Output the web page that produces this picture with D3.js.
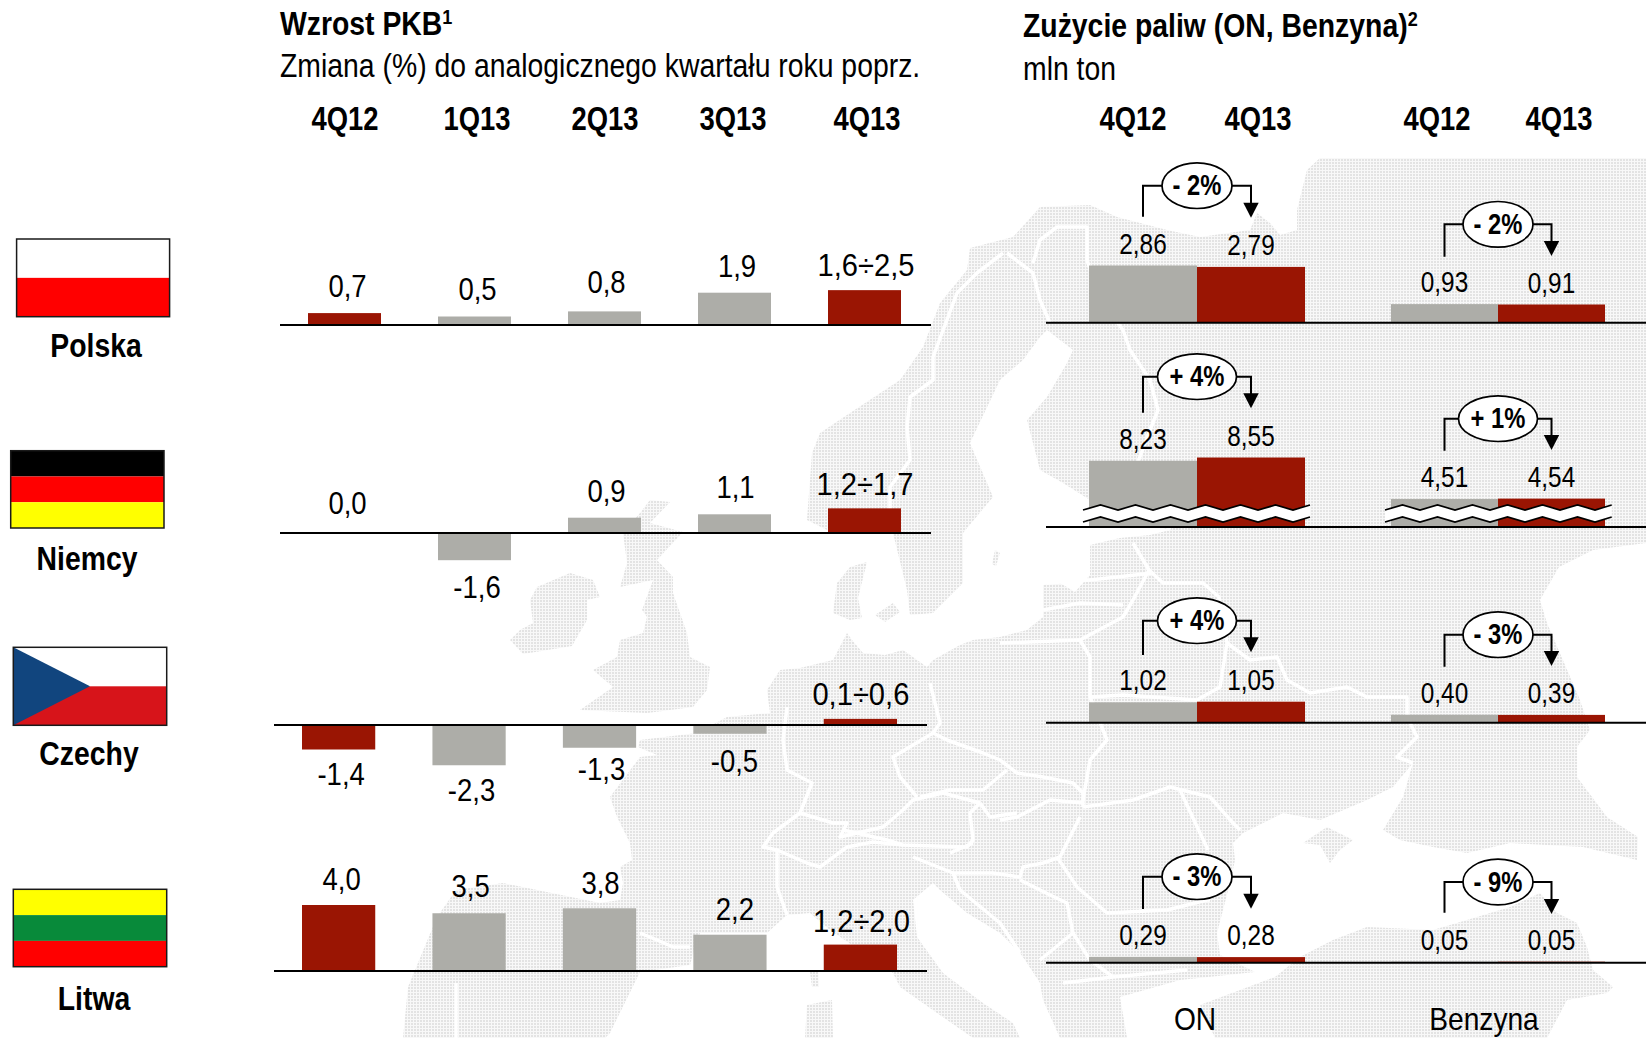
<!DOCTYPE html>
<html lang="pl">
<head>
<meta charset="utf-8">
<title>Wzrost PKB i zużycie paliw</title>
<script src="https://cdn.jsdelivr.net/npm/d3@7/dist/d3.min.js"></script>
<style>
    html, body { margin: 0; padding: 0; background: white; }
    svg { display: block; }
    text { font-family: "Liberation Sans", Arial, sans-serif; fill: black; }
    .bold { font-weight: bold; }
</style>
</head>
<body>
<svg id="mainSvg" width="1646" height="1038"></svg>
<script>
// ---- data ----
const quarters = ["4Q12", "1Q13", "2Q13", "3Q13", "4Q13"];
const fuelQuarters = ["4Q12", "4Q13"];
const countries = ["Polska", "Niemcy", "Czechy", "Litwa"];

// gdp growth, the 4Q13 ranges are drawn at their midpoint
const gdpPoland = [0.7, 0.5, 0.8, 1.9, 2.05];
const gdpGermany = [0.0, -1.6, 0.9, 1.1, 1.45];
const gdpCzech = [-1.4, -2.3, -1.3, -0.5, 0.35];
const gdpLithuania = [4.0, 3.5, 3.8, 2.2, 1.6];

const gdpPolandLabels = ["0,7", "0,5", "0,8", "1,9", "1,6÷2,5"];
const gdpGermanyLabels = ["0,0", "-1,6", "0,9", "1,1", "1,2÷1,7"];
const gdpCzechLabels = ["-1,4", "-2,3", "-1,3", "-0,5", "0,1÷0,6"];
const gdpLithuaniaLabels = ["4,0", "3,5", "3,8", "2,2", "1,2÷2,0"];

// fuel use, mln tons
const onPoland = [2.86, 2.79];
const onGermany = [8.23, 8.55];
const onCzech = [1.02, 1.05];
const onLithuania = [0.29, 0.28];
const petrolPoland = [0.93, 0.91];
const petrolGermany = [4.51, 4.54];
const petrolCzech = [0.40, 0.39];
const petrolLithuania = [0.05, 0.05];
const onChange = ["- 2%", "+ 4%", "+ 4%", "- 3%"];
const petrolChange = ["- 2%", "+ 1%", "- 3%", "- 9%"];

// ---- layout ----
const grey = "#adada8";
const red = "#9a1503";
const gdpBase = [325, 533, 725, 971];
const gdpUnit = [17, 17, 17.5, 16.5];           // px per 1%
const gdpLeft = [[280, 931, 308, 901], [280, 931, 308, 901], [274, 927, 302, 897], [274, 927, 302, 897]];  // line, bars
const gdpLabelGap = [[16, 17, 18, 16, 14], [19, 38, 16, 16, 13], [35, 36, 32, 38, 14], [15, 16, 14, 15, 13]];
const gdpLabelDx = [[3, 3, 2, 2.5, 1.5], [3, 2.5, 2, 1, 0.5], [2.5, 2.5, 2, 4.5, 0.5], [3, 1.5, 1, 5, 1]];
const gdpHeadX = [345, 477, 605, 733, 867];

const fuelBase = [322.7, 527, 722.7, 962.7];
const onHeadX = [1133, 1258];
const petrolHeadX = [1437, 1559];
const onConnector = [[185.7, 216.7, 217.7], [376.7, 412.7, 408.3], [620.7, 655, 652.3], [876.7, 909, 908.7]];       // y, line end, arrow tip
const petrolConnector = [[224.3, 256.7, 256], [418.7, 450.7, 450], [634.7, 666.7, 666], [882, 912.7, 914]];

const flagBoxes = [[16.6, 239, 153, 77.7], [10.7, 450.7, 153.3, 77.3], [13.3, 647.3, 153.4, 78], [13.3, 889.3, 153.4, 77.4]];
const countryLabelPos = [[96, 357], [87, 570], [89, 765], [94, 1010]];

// ---- background map, traced by hand ----
const landMain = [[847,633],[852,640],[863,653],[885,655],[903,650],[927,667],[933,660],[960,645],[973,640],[1000,637],[1027,630],[1043,617],[1043,585],[1060,583],[1075,592],[1090,575],[1090,545],[1120,538],[1150,535],[1170,530],[1140,520],[1090,500],[1063,483],[1040,470],[1027,420],[1047,397],[1067,363],[1073,350],[1047,330],[1040,337],[1023,360],[1000,380],[970,443],[993,497],[963,533],[963,583],[933,613],[910,615],[907,590],[893,533],[827,530],[807,520],[812,453],[820,433],[850,413],[900,380],[923,347],[940,303],[967,270],[970,248],[1013,237],[1040,207],[1090,205],[1117,217],[1167,230],[1200,237],[1250,230],[1257,213],[1270,223],[1280,235],[1297,230],[1297,210],[1307,170],[1320,158],[1646,158],[1646,543],[1593,550],[1559,567],[1540,600],[1547,623],[1580,700],[1590,730],[1577,747],[1577,777],[1607,817],[1638,837],[1637,860],[1583,847],[1510,843],[1467,853],[1433,847],[1400,840],[1383,830],[1403,797],[1413,763],[1393,787],[1367,800],[1320,820],[1283,813],[1243,833],[1233,843],[1235,860],[1230,883],[1217,933],[1220,955],[1255,972],[1180,980],[1120,997],[1127,1038],[1060,1038],[1043,1000],[1040,983],[1025,960],[1020,953],[1000,933],[967,913],[940,890],[933,883],[913,900],[917,937],[943,973],[983,1003],[1013,1023],[1020,1038],[973,1038],[937,1013],[900,987],[893,973],[830,930],[810,913],[787,915],[767,933],[700,933],[694,950],[690,965],[640,972],[610,1033],[605,1038],[403,1038],[408,987],[437,917],[456,890],[503,883],[600,903],[620,900],[623,883],[620,867],[632,860],[630,843],[617,817],[610,797],[640,757],[657,755],[638,747],[640,740],[697,733],[727,717],[770,713],[767,690],[780,670],[800,668],[833,660]];
const landBritain = [[650,500],[670,502],[650,523],[683,532],[657,560],[673,577],[673,593],[687,633],[690,657],[710,667],[707,690],[693,707],[647,713],[580,710],[613,687],[593,670],[617,657],[620,640],[643,633],[647,617],[642,610],[653,580],[620,587],[627,563],[623,533],[640,513]];
const landIreland = [[537,587],[570,573],[593,580],[600,597],[587,600],[587,620],[572,646],[523,654],[510,640],[520,630],[533,623],[530,600]];
const landDenmark = [[867,562],[850,567],[837,583],[833,613],[850,620],[862,618],[858,598]];
const landFyn = [[875,615],[893,603],[900,612],[885,622]];
const landGotland = [[995,550],[1000,553],[996,566],[992,564]];
const landCrimea = [[1303,843],[1327,827],[1353,840],[1340,850],[1330,863],[1320,845]];
const landCorsica = [[810,972],[818,972],[819,987],[812,987]];
const landSardinia = [[807,1005],[832,1000],[833,1038],[805,1038]];
const landTurkey = [[1215,1038],[1200,1005],[1240,990],[1275,977],[1300,957],[1333,940],[1367,927],[1433,930],[1467,920],[1510,907],[1540,893],[1557,913],[1577,923],[1587,947],[1593,970],[1613,987],[1607,993],[1567,1000],[1547,1038]];
const landPieces = [landMain, landBritain, landIreland, landDenmark, landFyn, landGotland, landCrimea, landCorsica, landSardinia, landTurkey];

const borderLines = [
    [[1003,253],[977,273],[957,293],[933,357],[933,380],[910,397],[907,427],[910,460],[890,487],[890,533]],   // Norway - Sweden
    [[1007,253],[1033,273],[1040,300],[1050,323]],
    [[1033,263],[1040,240],[1057,227],[1087,227],[1087,260],[1100,300],[1123,330],[1130,350],[1150,380],[1158,410],[1150,430],[1135,470],[1150,505],[1170,530]],     // Finland
    [[787,707],[783,740],[787,770],[812,783],[800,813],[773,833],[763,847],[777,850],[777,887],[787,915]],     // west of Germany
    [[800,813],[833,823],[847,823],[840,837],[883,827],[903,810],[913,800],[943,793],[980,803]],
    [[930,683],[940,723],[933,733],[893,757],[900,777],[917,797]],
    [[933,733],[947,740],[983,753],[1000,760],[1017,773],[1043,777],[1073,783],[1083,793],[1083,807]],
    [[1007,770],[983,790],[950,790],[920,797]],
    [[1000,820],[1017,817],[1050,800],[1083,803]],
    [[980,803],[990,817],[1017,813]],
    [[980,803],[970,813],[973,840],[967,847],[903,845],[887,840],[843,830]],
    [[777,850],[807,863],[820,867],[847,847],[873,842],[903,845]],
    [[913,857],[953,873],[993,873],[1020,877],[1023,867],[1043,863],[1060,857],[1080,817]],
    [[973,843],[950,853]],
    [[960,890],[1000,923],[1020,953]],
    [[953,873],[960,890]],
    [[1057,857],[1077,887],[1107,913],[1167,910],[1207,900],[1210,900]],
    [[1020,880],[1050,895],[1067,903],[1073,933],[1040,960]],
    [[1063,983],[1113,977],[1187,970]],
    [[1073,933],[1090,960],[1113,977]],
    [[1083,807],[1133,800],[1170,787],[1210,797],[1233,823],[1240,830]],
    [[1180,790],[1200,833],[1208,850]],
    [[1000,643],[1080,640],[1090,657],[1090,697],[1103,730],[1107,740],[1090,760],[1083,800]],
    [[1080,640],[1123,617],[1133,600],[1149,570],[1163,583],[1203,583],[1219,597],[1227,643],[1220,687],[1197,700],[1123,695],[1090,697]],
    [[1227,643],[1250,660],[1277,657],[1287,680],[1310,693],[1347,687],[1367,697],[1407,697],[1407,717],[1417,737],[1397,757],[1413,763]],
    [[1047,583],[1090,580],[1153,573]],
    [[1043,610],[1080,603],[1123,605]],
    [[1133,543],[1149,570]],
    [[456,983],[456,1038]],
    [[640,933],[657,940],[673,947],[690,947]]
];

const svg = d3.select("#mainSvg");
const defs = svg.append("defs");
const dots = defs.append("pattern")
    .attr("id", "landDots")
    .attr("width", 3).attr("height", 3)
    .attr("patternUnits", "userSpaceOnUse");
dots.append("rect").attr("width", 3).attr("height", 3).attr("fill", "#f8f8f8");
dots.append("rect").attr("width", 2).attr("height", 2).attr("fill", "#e3e3e3");

/**
 * draw the dotted map behind the charts
 * @param: svg
 * @return: none
 * */
function drawMap(svg)
{
    const mapGroup = svg.append("g").attr("id", "map");
    const closed = d3.line().curve(d3.curveLinearClosed);
    const open = d3.line();
    mapGroup.selectAll("path.land").data(landPieces).join("path")
        .attr("class", "land")
        .attr("d", d => closed(d))
        .attr("fill", "url(#landDots)");
    mapGroup.selectAll("path.border").data(borderLines).join("path")
        .attr("class", "border")
        .attr("d", d => open(d))
        .attr("fill", "none")
        .attr("stroke", "white")
        .attr("stroke-width", 3.5)
        .attr("stroke-linejoin", "round");
}

/**
 * draw four flags and the country names
 * @param: svg
 * @return: none
 * */
function drawFlags(svg)
{
    const stripes = [
        [["#ffffff", "#ff0000"]],
        [["#000000", "#ff0000", "#ffff00"]],
        null,
        [["#ffff00", "#088a3a", "#ff0000"]]
    ];
    flagBoxes.forEach((box, i) => {
        const [x, y, w, h] = box;
        const g = svg.append("g").attr("transform", `translate(${x}, ${y})`);
        if(i === 2) {   // czech flag has the wedge
            g.append("rect").attr("width", w).attr("height", h / 2).attr("fill", "white");
            g.append("rect").attr("y", h / 2).attr("width", w).attr("height", h / 2).attr("fill", "#d7141a");
            g.append("path").attr("d", `M0,0L${w / 2},${h / 2}L0,${h}Z`).attr("fill", "#11457e");
        }
        else {
            const colors = stripes[i][0];
            const band = d3.scaleBand().domain(d3.range(colors.length)).range([0, h]);
            g.selectAll("rect").data(colors).join("rect")
                .attr("y", (d, k) => band(k))
                .attr("width", w)
                .attr("height", band.bandwidth())
                .attr("fill", d => d);
        }
        g.append("rect").attr("width", w).attr("height", h)
            .attr("fill", "none").attr("stroke", "#1a1a1a").attr("stroke-width", 1.5);
        svg.append("text").attr("class", "bold")
            .attr("x", countryLabelPos[i][0]).attr("y", countryLabelPos[i][1])
            .attr("text-anchor", "middle").attr("font-size", 33)
            .text(countries[i]);
    });
}

/**
 * titles, column heads and the two labels under the fuel columns
 * @param: svg
 * @return: none
 * */
function drawTitles(svg)
{
    const title = (x, y, txt, sup) => {
        const t = svg.append("text").attr("class", "bold").attr("x", x).attr("y", y).attr("font-size", 33).text(txt);
        t.append("tspan").attr("dy", -11).attr("font-size", 21).text(sup);
    };
    const plain = (x, y, txt) => svg.append("text").attr("x", x).attr("y", y).attr("font-size", 33).text(txt);
    title(280, 35, "Wzrost PKB", "1");
    plain(280, 77, "Zmiana (%) do analogicznego kwartału roku poprz.");
    title(1023, 37, "Zużycie paliw (ON, Benzyna)", "2");
    plain(1023, 80, "mln ton");

    const head = (x, txt) => svg.append("text").attr("class", "bold").attr("data-narrow", 0.83)
        .attr("x", x).attr("y", 130).attr("text-anchor", "middle").attr("font-size", 33).text(txt);
    quarters.forEach((q, i) => head(gdpHeadX[i], q));
    fuelQuarters.forEach((q, i) => {
        head(onHeadX[i], q);
        head(petrolHeadX[i], q);
    });
    // kept a little higher and smaller so the descender stays on the page
    svg.append("text").attr("data-narrow", 0.88).attr("x", 1195).attr("y", 1030).attr("text-anchor", "middle").attr("font-size", 32).text("ON");
    svg.append("text").attr("data-narrow", 0.88).attr("x", 1484).attr("y", 1030).attr("text-anchor", "middle").attr("font-size", 32).text("Benzyna");
}

/**
 * left chart: one row of gdp bars
 * @param: svg, values, labels, i: row number
 * @return: none
 * */
function drawGdpRow(svg, values, labels, i)
{
    const [lineX0, lineX1, barX0, barX1] = gdpLeft[i];
    const xScale = d3.scaleBand().domain(quarters).range([barX0, barX1]).paddingInner(0.4385).paddingOuter(0);
    const yScale = d3.scaleLinear().domain([0, 1]).range([gdpBase[i], gdpBase[i] - gdpUnit[i]]);
    const row = svg.append("g").attr("class", "gdpRow");
    const bars = quarters.map((q, k) => ({q: q, v: values[k], label: labels[k], k: k}));

    row.selectAll("rect").data(bars).join("rect")
        .attr("x", d => xScale(d.q))
        .attr("y", d => Math.min(yScale(0), yScale(d.v)))
        .attr("width", xScale.bandwidth())
        .attr("height", d => Math.abs(yScale(d.v) - yScale(0)))
        .attr("fill", d => (d.k === 0 || d.k === 4) ? red : grey);
    row.append("line")
        .attr("x1", lineX0).attr("x2", lineX1)
        .attr("y1", yScale(0)).attr("y2", yScale(0))
        .attr("stroke", "black").attr("stroke-width", 2);
    row.selectAll("text").data(bars).join("text")
        .attr("data-narrow", d => d.label.includes("÷") ? 0.91 : 0.86)
        .attr("x", d => xScale(d.q) + xScale.bandwidth() / 2 + gdpLabelDx[i][d.k])
        .attr("y", d => d.v < 0 ? yScale(d.v) + gdpLabelGap[i][d.k] : yScale(d.v) - gdpLabelGap[i][d.k])
        .attr("text-anchor", "middle")
        .attr("font-size", 32)
        .text(d => d.label);
}

/**
 * right chart: pair of fuel bars with the change bubble and arrow
 * @param: svg, values, change: text in the bubble, conn: [y, line end, arrow tip], xRange, yScale
 * @return: none
 * */
function drawFuelPair(svg, values, change, conn, xRange, yScale)
{
    const xScale = d3.scaleBand().domain(fuelQuarters).range(xRange);
    const g = svg.append("g").attr("class", "fuelPair");
    const bars = fuelQuarters.map((q, k) => ({q: q, v: values[k], k: k}));
    const cx = q => xScale(q) + xScale.bandwidth() / 2;
    const left = cx(fuelQuarters[0]);
    const right = cx(fuelQuarters[1]);
    const [cy, lineEnd, tip] = conn;

    g.selectAll("rect").data(bars).join("rect")
        .attr("x", d => xScale(d.q))
        .attr("y", d => yScale(d.v))
        .attr("width", xScale.bandwidth())
        .attr("height", d => yScale(0) - yScale(d.v))
        .attr("fill", d => d.k === 0 ? grey : red);
    g.selectAll("text.value").data(bars).join("text")
        .attr("class", "value")
        .attr("data-narrow", 0.84)
        .attr("x", d => cx(d.q))
        .attr("y", d => yScale(d.v) - 12)
        .attr("text-anchor", "middle")
        .attr("font-size", 29)
        .text(d => d3.format(".2f")(d.v).replace(".", ","));

    // connector, bubble, arrow head
    g.append("path")
        .attr("d", `M${left},${lineEnd}V${cy}H${right}V${tip - 13}`)
        .attr("fill", "none").attr("stroke", "black").attr("stroke-width", 2);
    g.append("path")
        .attr("d", `M${right - 7.7},${tip - 15}H${right + 7.7}L${right},${tip}Z`)
        .attr("fill", "black");
    const midX = xScale(fuelQuarters[1]);
    g.append("ellipse")
        .attr("cx", midX).attr("cy", cy)
        .attr("rx", change[0] === "+" ? 39.5 : 35).attr("ry", 22.8)
        .attr("fill", "white").attr("stroke", "black").attr("stroke-width", 1.7);
    g.append("text").attr("class", "bold")
        .attr("data-narrow", 0.82)
        .attr("x", midX).attr("y", cy + 9.5)
        .attr("text-anchor", "middle").attr("font-size", 29)
        .text(change);
}

/**
 * white strip with two jagged edges over the cut bars
 * @param: svg, x0, x1: extent, yBase: bottom of bars
 * @return: none
 * */
function drawBreak(svg, x0, x1, yBase)
{
    const step = 17.5;
    const xs = d3.range(x0, x1, step).concat([x1]);
    const edge = off => xs.map((x, k) => [x, yBase - off - (k % 2 === 1 ? 5 : 0)]);
    const top = edge(17);
    const bottom = edge(5);
    const line = d3.line();
    svg.append("path")
        .attr("d", line(top.concat(bottom.slice().reverse())) + "Z")
        .attr("fill", "white");
    [top, bottom].forEach(e => {
        svg.append("path").attr("d", line(e))
            .attr("fill", "none").attr("stroke", "black").attr("stroke-width", 1.7);
    });
}

/**
 * no narrow font installed, so squeeze the text horizontally
 * @param: svg
 * @return: none
 * */
function narrowTexts(svg)
{
    svg.selectAll("text").each(function() {
        const t = d3.select(this);
        const k = t.attr("data-narrow") || 0.86;
        t.attr("transform", `translate(${t.attr("x")}, ${t.attr("y")}) scale(${k}, 1)`)
            .attr("x", null).attr("y", null);
    });
}

drawMap(svg);
drawFlags(svg);
drawTitles(svg);

drawGdpRow(svg, gdpPoland, gdpPolandLabels, 0);
drawGdpRow(svg, gdpGermany, gdpGermanyLabels, 1);
drawGdpRow(svg, gdpCzech, gdpCzechLabels, 2);
drawGdpRow(svg, gdpLithuania, gdpLithuaniaLabels, 3);

// fuel rows, Germany has a cut axis so gets its own scale
const onRows = [onPoland, onGermany, onCzech, onLithuania];
const petrolRows = [petrolPoland, petrolGermany, petrolCzech, petrolLithuania];
onRows.forEach((r, i) => {
    const base = fuelBase[i];
    const yScale = i === 1
        ? d3.scaleLinear().domain([0, 4.5, 8.6]).range([base, base - 28, base - 70])
        : d3.scaleLinear().domain([0, 1]).range([base, base - 20]);
    drawFuelPair(svg, r, onChange[i], onConnector[i], [1089, 1305], yScale);
    drawFuelPair(svg, petrolRows[i], petrolChange[i], petrolConnector[i], [1391, 1605], yScale);
    if(i === 1) {
        drawBreak(svg, 1083, 1310, base);
        drawBreak(svg, 1385, 1611.7, base);
    }
    svg.append("line")
        .attr("x1", 1046).attr("x2", 1646)
        .attr("y1", base).attr("y2", base)
        .attr("stroke", "black").attr("stroke-width", 2);
});

narrowTexts(svg);
</script>
</body>
</html>
